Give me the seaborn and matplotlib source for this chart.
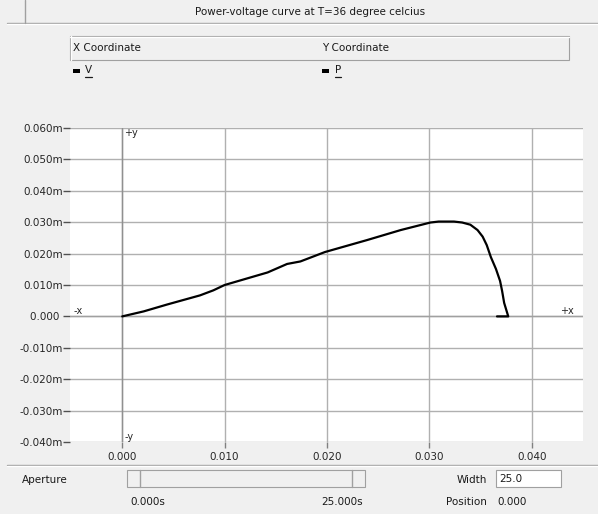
import matplotlib
matplotlib.use('Agg')
import matplotlib.pyplot as plt
import seaborn as sns
from matplotlib.patches import Rectangle
from matplotlib.lines import Line2D
from matplotlib.ticker import FuncFormatter

# power-voltage curve
V = [0.0000, 0.0021, 0.0044, 0.0076, 0.0089, 0.0100, 0.0142, 0.0161, 0.0174,
     0.0198, 0.0239, 0.0272, 0.0301, 0.0309, 0.0324, 0.0332, 0.0340, 0.0347,
     0.0352, 0.0356, 0.0360, 0.0365, 0.0369, 0.0371, 0.0373, 0.0377, 0.0366]
P = [0.0000, 0.0016, 0.0038, 0.0067, 0.0083, 0.0100, 0.0140, 0.0167, 0.0175,
     0.0205, 0.0243, 0.0275, 0.0299, 0.0302, 0.0302, 0.0299, 0.0292, 0.0275,
     0.0254, 0.0227, 0.0189, 0.0151, 0.0113, 0.0081, 0.0043, 0.0000, 0.0000]

x_ticks = [0.000, 0.010, 0.020, 0.030, 0.040]
y_ticks = [-0.04, -0.03, -0.02, -0.01, 0.0, 0.01, 0.02, 0.03, 0.04, 0.05, 0.06]

title = 'Power-voltage curve at T=36 degree celcius'

W, H = 598, 514
BG = '#f0f0f0'
GRID = '#b0b0b0'
EDGE = '#a0a0a0'
FS = 7.5

sns.set_style('white')
plt.rcParams['font.family'] = ['DejaVu Sans']


def fx(px):
    return px / W


def fy(py):
    return 1 - py / H


fig = plt.figure(figsize=(W / 100, H / 100), dpi=100, facecolor=BG)


def hline(x0, x1, y, color=EDGE, lw=1.0):
    fig.add_artist(Line2D([fx(x0), fx(x1)], [fy(y), fy(y)], color=color, lw=lw))


def vline(x, y0, y1, color=EDGE, lw=1.0):
    fig.add_artist(Line2D([fx(x), fx(x)], [fy(y0), fy(y1)], color=color, lw=lw))


def box(x0, y0, x1, y1, face=BG, edge=EDGE):
    fig.add_artist(Rectangle((fx(x0), fy(y1)), fx(x1) - fx(x0), fy(y0) - fy(y1),
                             facecolor=face, edgecolor=edge, lw=0.8))


def label(x, y, s, ha='left', **kw):
    fig.text(fx(x), fy(y), s, ha=ha, va='center', fontsize=FS, color='#1a1a1a', **kw)


# title bar
hline(7, W, 23)
hline(7, W, 24, color='white')
vline(25, 0, 23)
label(310, 12, title, ha='center')

# coordinate header
box(70, 36, 569, 60)
hline(70, 569, 37, color='white')
vline(70.5, 36, 60, color='white')
label(73, 48, 'X Coordinate')
label(322, 48, 'Y Coordinate')

# legend markers with underlined names
fig.add_artist(Rectangle((fx(73), fy(73)), fx(7), 3.5 / H, facecolor='black', lw=0))
fig.add_artist(Rectangle((fx(322), fy(73)), fx(7), 3.5 / H, facecolor='black', lw=0))
label(85, 70, 'V')
label(335, 70, 'P')
hline(85, 92, 77, color='#1a1a1a', lw=0.9)
hline(335, 341, 77, color='#1a1a1a', lw=0.9)

# plot
ax = fig.add_axes([fx(70), fy(442), fx(583) - fx(70), fy(128) - fy(442)])
ax.set_facecolor('white')
sns.lineplot(x=V, y=P, sort=False, estimator=None, color='black', lw=1.6, ax=ax)
ax.set_xlim(-0.0051, 0.0450)
ax.set_ylim(-0.040, 0.060)
ax.set_xticks(x_ticks)
ax.set_yticks(y_ticks)
ax.xaxis.set_major_formatter(FuncFormatter(lambda v, p: f'{v:.3f}'))
ax.yaxis.set_major_formatter(
    FuncFormatter(lambda v, p: '0.000 ' if abs(v) < 1e-9 else f'{v:.3f}m'))
ax.grid(True, color=GRID, lw=1.0)
ax.set_axisbelow(True)
ax.axvline(0, color='#909090', lw=1.0, zorder=1)
ax.axhline(0, color='#a0a0a0', lw=1.0, zorder=1)
for s in ax.spines.values():
    s.set_visible(False)
ax.tick_params(axis='y', left=True, length=5, width=1, color='#505050', pad=0,
               labelsize=FS)
ax.tick_params(axis='x', bottom=True, length=4, width=1, color='#808080', pad=3,
               labelsize=FS)
ax.text(0.0002, 0.0585, '+y', fontsize=FS - 0.5, va='center')
ax.text(0.0002, -0.0385, '-y', fontsize=FS - 0.5, va='center')
ax.text(-0.0048, 0.0018, '-x', fontsize=FS - 0.5, va='center')
ax.text(0.0428, 0.0018, '+x', fontsize=FS - 0.5, va='center')

# aperture panel
hline(7, W, 465)
hline(7, W, 466, color='white')
label(22, 480, 'Aperture')
box(127, 470, 365, 487)
vline(140, 470, 487)
vline(352, 470, 487)
label(130, 502, '0.000s')
label(363, 502, '25.000s', ha='right')
label(487, 480, 'Width', ha='right')
box(496, 470, 561, 487, face='white', edge='#a0a0a0')
label(499, 479, '25.0')
label(487, 502, 'Position', ha='right')
label(497, 502, '0.000')

fig.savefig('out.png', dpi=100, facecolor=BG)
